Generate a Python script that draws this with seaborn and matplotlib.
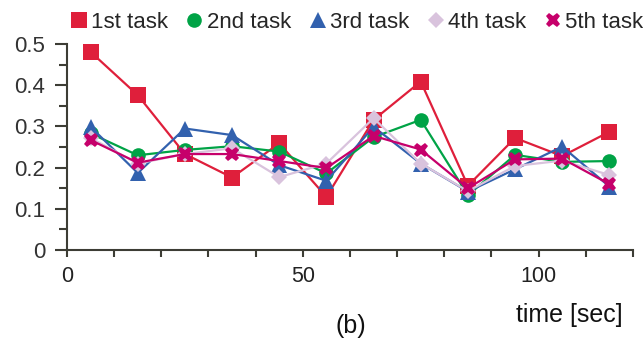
import matplotlib
matplotlib.use("Agg")
import matplotlib.pyplot as plt
from matplotlib.lines import Line2D
from matplotlib.ticker import FixedLocator, FixedFormatter
import seaborn as sns
import pandas as pd

sns.set_theme(style="white")
plt.rcParams['font.family'] = ['Liberation Sans', 'DejaVu Sans']

time_sec = [5, 15, 25, 35, 45, 55, 65, 75, 85, 95, 105, 115]
task_names = ["1st task", "2nd task", "3rd task", "4th task", "5th task"]
task1 = [0.481, 0.376, 0.233, 0.176, 0.259, 0.129, 0.316, 0.409, 0.156, 0.272, 0.228, 0.287]
task2 = [0.283, 0.230, 0.243, 0.252, 0.239, 0.186, 0.274, 0.316, 0.133, 0.231, 0.214, 0.216]
task3 = [0.299, 0.187, 0.295, 0.279, 0.206, 0.168, 0.299, 0.210, 0.142, 0.196, 0.251, 0.154]
task4 = [0.272, 0.210, 0.233, 0.247, 0.177, 0.210, 0.320, 0.210, 0.143, 0.204, 0.217, 0.182]
task5 = [0.267, 0.212, 0.233, 0.233, 0.216, 0.199, 0.277, 0.244, 0.150, 0.220, 0.222, 0.160]
series = [task1, task2, task3, task4, task5]

x_ticks = [0, 50, 100]
x_minor = [0, 10, 20, 30, 40, 50, 60, 70, 80, 90, 100, 110, 120]
y_ticks = [0, 0.1, 0.2, 0.3, 0.4, 0.5]
y_tick_labels = ["0", "0.1", "0.2", "0.3", "0.4", "0.5"]
y_minor = [0.05, 0.15, 0.25, 0.35, 0.45]

colors = ["#DF1F3B", "#00A346", "#3261AE", "#D9C3DD", "#C6006B"]
markers = ["s", "o", "^", "D", "X"]
msizes = [11.5, 10.5, 11.5, 8.5, 10.5]

fig = plt.figure(figsize=(6.43, 3.39), dpi=100)
ax = fig.add_axes([0.1042, 0.2625, 0.8802, 0.6075])

for name, vals, c, m, ms in zip(task_names, series, colors, markers, msizes):
    df = pd.DataFrame({"time": time_sec, "value": vals})
    sns.lineplot(data=df, x="time", y="value", ax=ax, color=c, marker=m,
                 markersize=ms, markeredgewidth=0, linewidth=1.6,
                 clip_on=False, legend=False)

ax.set_xlim(0, 120)
ax.set_ylim(0, 0.5)
axis_col = "#3d3d35"
for s in ["top", "right"]:
    ax.spines[s].set_visible(False)
for s in ["left", "bottom"]:
    ax.spines[s].set_color(axis_col)
    ax.spines[s].set_linewidth(1.5)

ax.xaxis.set_major_locator(FixedLocator(x_ticks))
ax.xaxis.set_minor_locator(FixedLocator(x_minor))
ax.yaxis.set_major_locator(FixedLocator(y_ticks))
ax.yaxis.set_major_formatter(FixedFormatter(y_tick_labels))
ax.yaxis.set_minor_locator(FixedLocator(y_minor))
ax.tick_params(axis="x", which="both", direction="out", length=5, width=1.5,
               color=axis_col, labelsize=15.5, labelcolor="#222222", pad=6.5,
               bottom=True)
ax.tick_params(axis="y", which="major", direction="out", length=8.6, width=1.5,
               color=axis_col, labelsize=16, labelcolor="#333333", pad=7,
               left=True)
ax.tick_params(axis="y", which="minor", direction="out", length=5.8, width=1.5,
               color=axis_col, left=True)
ax.set_xlabel("")
ax.set_ylabel("")

fig.text(0.968, 0.050, "time [sec]", ha="right", va="baseline", fontsize=18, color="#111111")
fig.text(0.545, 0.018, "(b)", ha="center", va="baseline", fontsize=18, color="#111111")

handles = [Line2D([], [], color=c, marker=m, linestyle="none", markersize=ms,
                  markeredgewidth=0)
           for c, m, ms in zip(colors, markers, msizes)]
fig.legend(handles, task_names, loc="center left", bbox_to_anchor=(0.11, 0.935),
           ncol=5, frameon=False, fontsize=16, handlelength=0.7,
           handletextpad=0.2, columnspacing=0.85, borderaxespad=0,
           borderpad=0)

fig.savefig("out.png", dpi=100)
